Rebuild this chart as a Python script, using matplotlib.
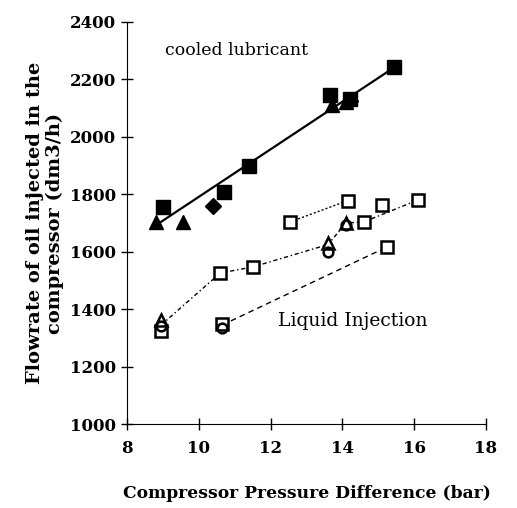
import matplotlib
matplotlib.use("Agg")
import matplotlib.pyplot as plt

# cooled lubricant (filled markers)
cool_sq_x = [9.0, 10.7, 11.4, 13.65, 14.2, 15.45]
cool_sq_y = [1756, 1808, 1899, 2145, 2132, 2242]
cool_tri_x = [8.8, 9.55, 13.7, 14.1]
cool_tri_y = [1704, 1704, 2111, 2120]
cool_dia_x = [10.4, 14.2]
cool_dia_y = [1760, 2125]
cool_fit_x = [8.9, 15.45]
cool_fit_y = [1700, 2242]

# liquid injection (open markers)
liq_sq_x = [8.95, 10.65, 10.6, 11.5, 12.55, 14.15, 14.6, 15.1, 16.1, 15.25]
liq_sq_y = [1325, 1348, 1526, 1547, 1704, 1778, 1704, 1763, 1780, 1617]
liq_tri_x = [8.95, 13.6, 14.1]
liq_tri_y = [1362, 1630, 1700]
liq_circ_x = [8.95, 10.65, 13.6, 14.1]
liq_circ_y = [1340, 1335, 1600, 1692]

line_a_x = [12.55, 14.15]
line_a_y = [1704, 1778]
line_b_x = [8.95, 10.6, 11.5, 13.6, 14.1, 14.6, 16.1]
line_b_y = [1345, 1526, 1547, 1625, 1700, 1704, 1780]
line_c_x = [10.65, 15.25]
line_c_y = [1345, 1617]

xticks = [8, 10, 12, 14, 16, 18]
yticks = [1000, 1200, 1400, 1600, 1800, 2000, 2200, 2400]

serif = "DejaVu Serif"

fig = plt.figure(figsize=(5.17, 5.08), dpi=100)
ax = fig.add_axes([0.2456, 0.165, 0.6944, 0.792])

ax.plot(cool_fit_x, cool_fit_y, color="black", lw=1.6)
ax.plot(line_a_x, line_a_y, color="black", lw=1.0, ls=(0, (1.5, 1.5)))
ax.plot(line_b_x, line_b_y, color="black", lw=1.0, ls=(0, (3, 2, 1, 2)))
ax.plot(line_c_x, line_c_y, color="black", lw=1.0, ls=(0, (4, 3)))

ax.plot(cool_sq_x, cool_sq_y, "s", color="black", ms=10, ls="none")
ax.plot(cool_tri_x, cool_tri_y, "^", color="black", ms=10, ls="none")
ax.plot(cool_dia_x, cool_dia_y, "D", color="black", ms=8, ls="none")

ax.plot(liq_sq_x, liq_sq_y, "s", mfc="white", mec="black", mew=1.8, ms=9, ls="none")
ax.plot(liq_tri_x, liq_tri_y, "^", mfc="white", mec="black", mew=1.8, ms=9, ls="none")
ax.plot(liq_circ_x, liq_circ_y, "o", mfc="none", mec="black", mew=1.8, ms=7, ls="none")

ax.set_xlim(8, 18)
ax.set_ylim(1000, 2400)
ax.set_xticks(xticks)
ax.set_yticks(yticks)
ax.spines["top"].set_visible(False)
ax.spines["right"].set_visible(False)
ax.tick_params(direction="inout", length=9, width=1, labelsize=12)
ax.tick_params(axis="x", pad=7)
for lab in ax.get_xticklabels() + ax.get_yticklabels():
    lab.set_fontfamily(serif)
    lab.set_fontweight("bold")

ax.set_xlabel("Compressor Pressure Difference (bar)", family=serif,
              fontweight="bold", fontsize=12.3, labelpad=20)
ax.set_ylabel("Flowrate of oil injected in the\ncompressor (dm3/h)",
              family=serif, fontweight="bold", fontsize=14, labelpad=4,
              linespacing=1.1)

ax.text(9.05, 2285, "cooled lubricant", family=serif, fontsize=12.5)
ax.text(12.2, 1340, "Liquid Injection", family=serif, fontsize=13.5)

fig.savefig("out.png", dpi=100)
